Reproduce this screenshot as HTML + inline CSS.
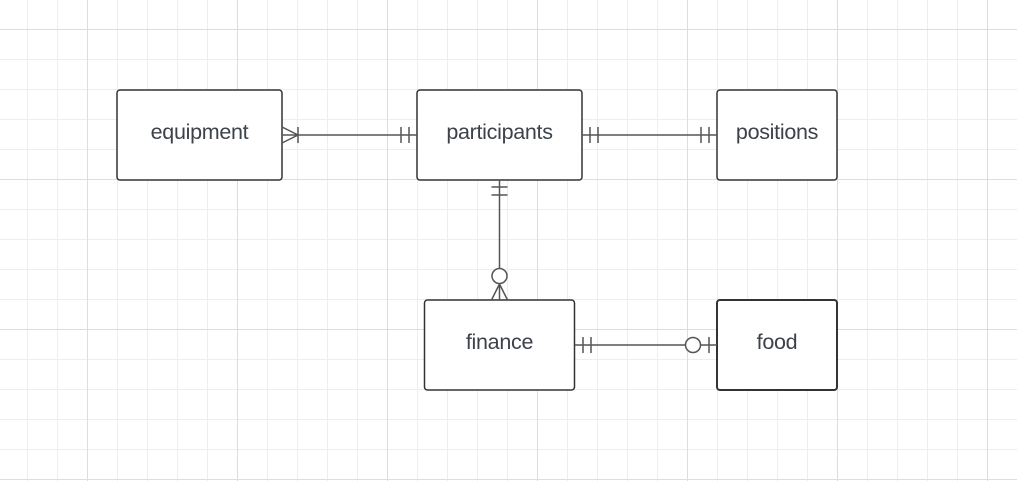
<!DOCTYPE html>
<html><head><style>
html,body{margin:0;padding:0;background:#fff;}
svg{display:block;font-family:"Liberation Sans",sans-serif;}
</style></head><body>
<svg width="1017" height="481" xmlns="http://www.w3.org/2000/svg">
<defs>
<pattern id="minor" x="27" y="29" width="30" height="30" patternUnits="userSpaceOnUse">
<path d="M0.5 0V30M0 0.5H30" stroke="#eeeeee" stroke-width="1" fill="none"/>
</pattern>
<pattern id="major" x="87" y="29" width="150" height="150" patternUnits="userSpaceOnUse">
<path d="M0.5 0V150M0 0.5H150" stroke="#dddddd" stroke-width="1" fill="none"/>
</pattern>
</defs>
<rect width="1017" height="481" fill="url(#minor)"/>
<rect width="1017" height="481" fill="url(#major)"/>
<g fill="#fff" stroke="#333" stroke-width="1.5">
<rect x="117" y="90" width="165" height="90" rx="3"/>
<rect x="417" y="90" width="165" height="90" rx="3"/>
<rect x="717" y="90" width="120" height="90" rx="3"/>
<rect x="424.5" y="300" width="150" height="90" rx="3"/>
<rect x="717" y="300" width="120" height="90" rx="3" stroke-width="2"/>
</g>
<g fill="#3d424a" font-size="21.5" text-anchor="middle" letter-spacing="-0.3">
<text x="199.5" y="139">equipment</text>
<text x="499.5" y="139">participants</text>
<text x="777" y="139">positions</text>
<text x="499.5" y="349">finance</text>
<text x="777" y="349">food</text>
</g>
<g stroke="#555" stroke-width="1.5" fill="none">
<path d="M282 135H417M282 127L298 135L282 143M298 127V143M401 127V143M409 127V143"/>
<path d="M582 135H717M590 127V143M598 127V143M701 127V143M709 127V143"/>
<path d="M499.5 180V268.5M491.5 187H507.5M491.5 195H507.5M499.5 283.5V300M499.5 284L491.5 300M499.5 284L507.5 300"/>
<circle cx="499.5" cy="276" r="7.5" fill="#fff"/>
<path d="M575 345H685.5M700.5 345H717M583 337V353M591 337V353M709 337V353"/>
<circle cx="693" cy="345" r="7.5" fill="#fff"/>
</g>
</svg>
</body></html>
